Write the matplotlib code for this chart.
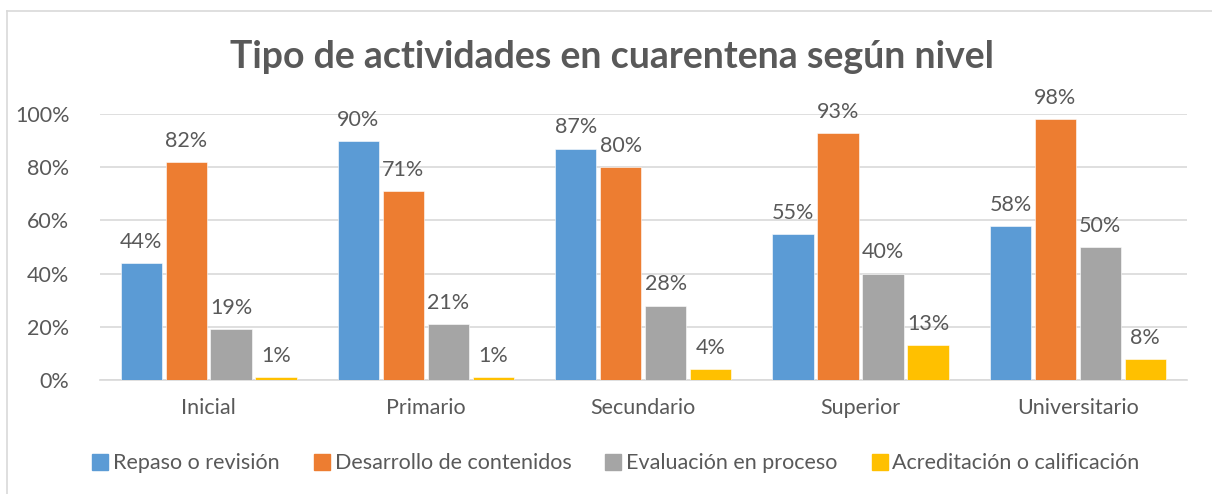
import numpy as np
import matplotlib
matplotlib.use('Agg')
import matplotlib.pyplot as plt
from matplotlib.ticker import PercentFormatter
from matplotlib.lines import Line2D

plt.rcParams['font.family'] = ['Lato', 'DejaVu Sans']

niveles = ['Inicial', 'Primario', 'Secundario', 'Superior', 'Universitario']
series = ['Repaso o revisión', 'Desarrollo de contenidos',
          'Evaluación en proceso', 'Acreditación o calificación']
repaso = [44, 90, 87, 55, 58]
desarrollo = [82, 71, 80, 93, 98]
evaluacion = [19, 21, 28, 40, 50]
acreditacion = [1, 1, 4, 13, 8]
colores = ['#5B9BD5', '#ED7D31', '#A5A5A5', '#FFC000']

txt = '#595959'
grid = '#D9D9D9'
fs = 15.5

fig = plt.figure(figsize=(12.12, 4.94), dpi=100)
ax = fig.add_axes([0.0825, 0.2308, 0.8965, 0.5384])

x = np.arange(len(niveles))
w = 0.19
step = 0.207
for i, (vals, col) in enumerate(zip([repaso, desarrollo, evaluacion, acreditacion], colores)):
    pos = x + (i - 1.5) * step
    ax.bar(pos, vals, width=w, color=col, edgecolor='white', linewidth=0.4, zorder=3)
    for p, v in zip(pos, vals):
        ax.annotate(f'{v}%', (p, v), xytext=(0, 8), textcoords='offset points',
                    ha='center', va='bottom', fontsize=fs, color=txt,
                    annotation_clip=False)

ax.set_xlim(-0.5, len(niveles) - 0.5)
ax.set_ylim(0, 100)
ax.set_yticks(range(0, 101, 20))
ax.yaxis.set_major_formatter(PercentFormatter(decimals=0))
ax.set_xticks(x)
ax.set_xticklabels(niveles)
ax.tick_params(axis='both', length=0, labelsize=fs, colors=txt)
ax.tick_params(axis='x', pad=13)
ax.tick_params(axis='y', pad=22)
ax.grid(axis='y', color=grid, linewidth=1.2, zorder=0)
for s in ['top', 'right', 'left']:
    ax.spines[s].set_visible(False)
ax.spines['bottom'].set_color(grid)
ax.spines['bottom'].set_linewidth(1.2)

fig.text(0.505, 0.885, 'Tipo de actividades en cuarentena según nivel',
         ha='center', va='center', fontsize=27, fontweight='bold', color=txt)

handles = [Line2D([], [], marker='s', linestyle='', markersize=12,
                  markerfacecolor=c, markeredgecolor=c) for c in colores]
fig.legend(handles, series, loc='center', bbox_to_anchor=(0.507, 0.062), ncol=4,
           frameon=False, fontsize=fs, labelcolor=txt, handletextpad=0.1,
           columnspacing=1.45, handlelength=1.0)

# chart border (top and left visible)
fig.add_artist(Line2D([0.0058, 1.0], [0.978, 0.978], color=grid, linewidth=1.2))
fig.add_artist(Line2D([0.0058, 0.0058], [0.0, 0.978], color=grid, linewidth=1.2))

fig.savefig('out.png', dpi=100)
